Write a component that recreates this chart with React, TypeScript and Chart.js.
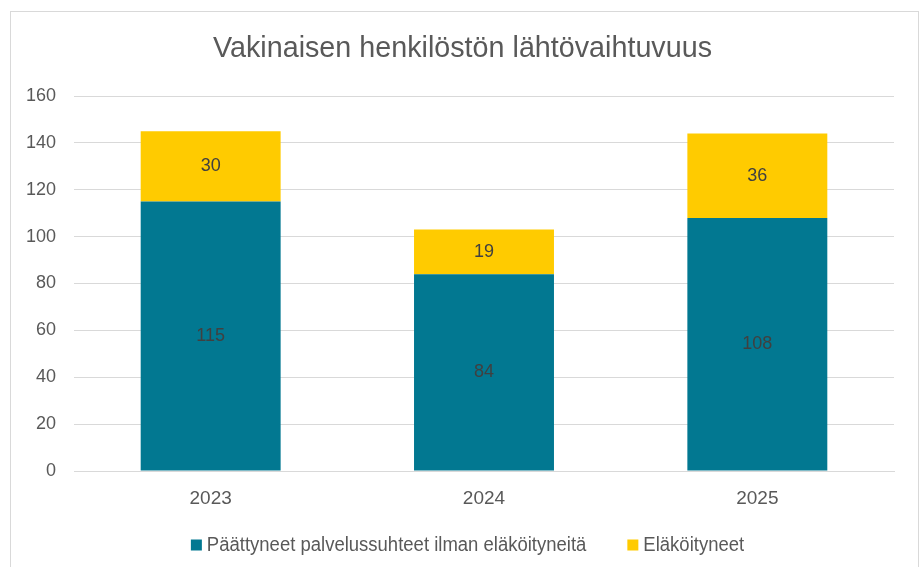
import React, { useEffect, useRef } from "react";
import { Chart, registerables } from "chart.js";

Chart.register(...registerables);

const categories = ["2023", "2024", "2025"];
const seriesNames = ["Päättyneet palvelussuhteet ilman eläköityneitä", "Eläköityneet"];
const endedValues = [115, 84, 108];
const retiredValues = [30, 19, 36];
const yTicks = [0, 20, 40, 60, 80, 100, 120, 140, 160];
const titleText = "Vakinaisen henkilöstön lähtövaihtuvuus";

const TEAL = "#027891";
const YELLOW = "#FFCB00";
const SANS = "'Liberation Sans', Arial, sans-serif";
const GREY = "#595959";

function narrowText(ctx: any, text: string, x: number, y: number, sx: number, align: string) {
  ctx.save();
  ctx.translate(x, y);
  ctx.scale(sx, 1);
  ctx.textAlign = align;
  ctx.fillText(text, 0, 0);
  ctx.restore();
}

const titlePlugin = {
  id: "customTitle",
  afterDraw(chart: any) {
    const ctx = chart.ctx;
    ctx.save();
    ctx.font = `29px ${SANS}`;
    ctx.fillStyle = GREY;
    ctx.textBaseline = "alphabetic";
    narrowText(ctx, titleText, 462.5, 57, 0.99, "center");
    ctx.restore();
  },
};

const legendPlugin = {
  id: "customLegend",
  afterDraw(chart: any) {
    const ctx = chart.ctx;
    const sx = 0.925;
    const box = 11;
    const textGap = 16;
    const itemGap = 41;
    const colors = chart.data.datasets.map((d: any) => d.backgroundColor);
    const labels = chart.data.datasets.map((d: any) => d.label);
    ctx.save();
    ctx.font = `20px ${SANS}`;
    const widths = labels.map((l: string) => ctx.measureText(l).width * sx);
    const total = widths.reduce((a: number, w: number) => a + textGap + w, 0) + itemGap * (labels.length - 1);
    let x = 467.5 - total / 2;
    const cy = 545;
    labels.forEach((l: string, i: number) => {
      ctx.fillStyle = colors[i];
      ctx.fillRect(x, cy - box / 2, box, box);
      ctx.fillStyle = GREY;
      ctx.textBaseline = "alphabetic";
      narrowText(ctx, l, x + textGap, cy + 6, sx, "left");
      x += textGap + widths[i] + itemGap;
    });
    ctx.restore();
  },
};

const valueLabels = {
  id: "valueLabels",
  afterDatasetsDraw(chart: any) {
    const ctx = chart.ctx;
    ctx.save();
    ctx.font = `18px ${SANS}`;
    ctx.fillStyle = "#404040";
    ctx.textAlign = "center";
    ctx.textBaseline = "middle";
    chart.data.datasets.forEach((ds: any, i: number) => {
      const meta = chart.getDatasetMeta(i);
      meta.data.forEach((bar: any, j: number) => {
        const y = (bar.y + bar.base) / 2;
        ctx.fillText(String(ds.data[j]), bar.x, y);
      });
    });
    ctx.restore();
  },
};

export default function App() {
  const ref = useRef<HTMLCanvasElement>(null);
  useEffect(() => {
    if (!ref.current) return;
    const chart = new Chart(ref.current, {
      type: "bar",
      data: {
        labels: categories,
        datasets: [
          { label: seriesNames[0], data: endedValues, backgroundColor: TEAL, categoryPercentage: 1, barPercentage: 0.512 },
          { label: seriesNames[1], data: retiredValues, backgroundColor: YELLOW, categoryPercentage: 1, barPercentage: 0.512 },
        ],
      },
      options: {
        animation: false,
        responsive: false,
        maintainAspectRatio: false,
        layout: { padding: { left: 0, right: 28, top: 96, bottom: 0 } },
        plugins: {
          title: { display: false },
          legend: { display: false },
          tooltip: { enabled: false },
        },
        scales: {
          x: {
            stacked: true,
            afterFit(scale: any) { scale.height = 96; },
            grid: { display: false },
            border: { color: "#d9d9d9" },
            ticks: { color: GREY, font: { family: SANS, size: 19 }, padding: 8 },
          },
          y: {
            stacked: true,
            min: 0,
            max: 160,
            afterFit(scale: any) { scale.width = 74; },
            afterBuildTicks(scale: any) { scale.ticks = yTicks.map((v) => ({ value: v })); },
            grid: { color: "#d9d9d9", drawTicks: false },
            border: { display: false },
            ticks: { color: GREY, font: { family: SANS, size: 18 }, padding: 18 },
          },
        },
      },
      plugins: [valueLabels, titlePlugin, legendPlugin],
    });
    return () => chart.destroy();
  }, []);
  return (
    <div style={{ position: "fixed", left: 0, top: 0, width: 922, height: 567, background: "#fff" }}>
      <div style={{ position: "absolute", left: 10, top: 11, width: 909, height: 600, border: "1px solid #d9d9d9", boxSizing: "border-box" }} />
      <canvas ref={ref} width={922} height={567} style={{ position: "absolute", left: 0, top: 0 }} />
    </div>
  );
}
